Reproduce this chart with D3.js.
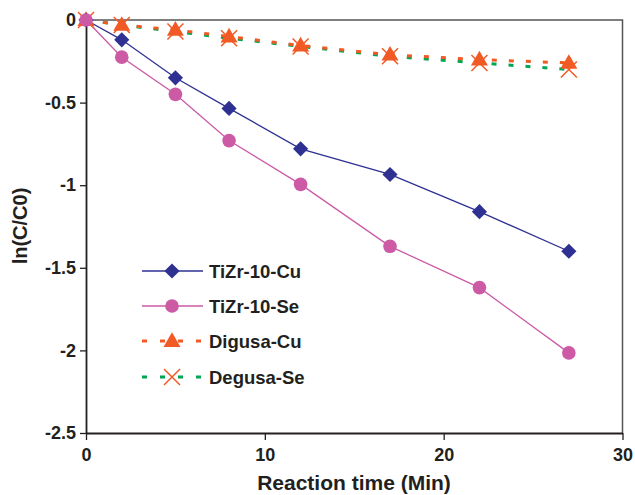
<!DOCTYPE html>
<html>
<head>
<meta charset="utf-8">
<script src="https://cdn.jsdelivr.net/npm/d3@7"></script>
<style>
  body { margin: 0; background: #fff; }
  text { font-family: "Liberation Sans", Arial, sans-serif; font-weight: bold; fill: #231f20; }
</style>
</head>
<body>
<div id="graphic"></div>
<script>
// data
const times = [0, 2, 5, 8, 12, 17, 22, 27];
const tizrCu = [0, -0.12, -0.35, -0.535, -0.78, -0.935, -1.16, -1.40];
const tizrSe = [0, -0.225, -0.45, -0.73, -0.995, -1.37, -1.62, -2.015];
const digusaCu = [0, -0.03, -0.06, -0.10, -0.155, -0.21, -0.24, -0.26];
const degusaSe = [0, -0.03, -0.07, -0.11, -0.16, -0.22, -0.26, -0.30];
const xTicks = [0, 10, 20, 30];
const yTicks = [0, -0.5, -1, -1.5, -2, -2.5];

const series = [
  { name: "TiZr-10-Cu", values: tizrCu, color: "#2e3192", marker: "diamond", dash: null, width: 1.3 },
  { name: "TiZr-10-Se", values: tizrSe, color: "#cc5aa5", marker: "circle", dash: null, width: 1.3 },
  { name: "Digusa-Cu", values: digusaCu, color: "#f15a24", marker: "triangle", dash: "5,12", width: 3 },
  { name: "Degusa-Se", values: degusaSe, color: "#00a651", marker: "cross", dash: "5,12", width: 3, markerColor: "#f15a24" }
];

const width = 635, height = 495;
const margin = { top: 20, right: 12.5, bottom: 62, left: 86 };
const plotWidth = width - margin.left - margin.right;
const plotHeight = height - margin.top - margin.bottom;

const svg = d3.select("#graphic")
  .append("svg")
  .attr("width", width)
  .attr("height", height);

const plot = svg.append("g")
  .attr("transform", "translate(" + margin.left + "," + margin.top + ")");

const x = d3.scaleLinear().domain([0, 30]).range([0, plotWidth]);
const y = d3.scaleLinear().domain([-2.5, 0]).range([plotHeight, 0]);

// frame on top and right
plot.append("path")
  .attr("d", "M0,0H" + plotWidth + "V" + plotHeight)
  .attr("fill", "none")
  .attr("stroke", "#555")
  .attr("stroke-width", 1.5);

// axes (plain hyphen minus like the original)
const fmt = d => String(d);
const xAxis = plot.append("g")
  .attr("transform", "translate(0," + plotHeight + ")")
  .call(d3.axisBottom(x).tickValues(xTicks).tickSize(7).tickPadding(8).tickSizeOuter(0).tickFormat(fmt));
const yAxis = plot.append("g")
  .call(d3.axisLeft(y).tickValues(yTicks).tickSize(6).tickPadding(4).tickSizeOuter(0).tickFormat(fmt));

[xAxis, yAxis].forEach(a => {
  a.select(".domain").attr("stroke", "#231f20").attr("stroke-width", 1.8);
  a.selectAll(".tick line").attr("stroke", "#231f20").attr("stroke-width", 1.3);
  a.selectAll(".tick text")
    .attr("font-family", "'Liberation Sans', Arial, sans-serif")
    .attr("font-weight", "bold")
    .attr("font-size", 18)
    .attr("fill", "#231f20");
});

// axis titles
svg.append("text")
  .attr("x", 354)
  .attr("y", 490)
  .attr("text-anchor", "middle")
  .attr("font-size", 21)
  .text("Reaction time (Min)");

svg.append("text")
  .attr("transform", "translate(27,226) rotate(-90)")
  .attr("text-anchor", "middle")
  .attr("font-size", 20)
  .text("ln(C/C0)");

function drawMarker(g, type, color, cx, cy) {
  if (type === "diamond") {
    g.append("path").attr("d", d3.symbol(d3.symbolSquare, 115)())
      .attr("transform", "translate(" + cx + "," + cy + ") rotate(45)")
      .attr("fill", color);
  } else if (type === "circle") {
    g.append("circle").attr("cx", cx).attr("cy", cy).attr("r", 6.8).attr("fill", color);
  } else if (type === "triangle") {
    g.append("path").attr("d", d3.symbol(d3.symbolTriangle, 125)())
      .attr("transform", "translate(" + cx + "," + (cy + 1) + ")")
      .attr("fill", color);
  } else if (type === "cross") {
    g.append("path").attr("d", "M-8,-8L8,8M-8,8L8,-8")
      .attr("transform", "translate(" + cx + "," + cy + ")")
      .attr("stroke", color).attr("stroke-width", 1.5).attr("fill", "none");
  }
}

// lines then markers (drawn in reverse so the Cu triangles end on top)
const order = [3, 2, 0, 1];
order.forEach(i => {
  const s = series[i];
  const pts = times.map((t, j) => ({ t: t, v: s.values[j] }));
  plot.append("path")
    .datum(pts)
    .attr("fill", "none")
    .attr("stroke", s.color)
    .attr("stroke-width", s.width)
    .attr("stroke-dasharray", s.dash)
    .attr("d", d3.line().x(d => x(d.t)).y(d => y(d.v)));
});
order.forEach(i => {
  const s = series[i];
  const g = plot.append("g");
  times.forEach((t, j) => drawMarker(g, s.marker, s.markerColor || s.color, x(t), y(s.values[j])));
});

// legend
const legend = svg.append("g");
const rowY = [271, 306, 341, 377];
series.forEach((s, i) => {
  const ly = rowY[i];
  legend.append("line")
    .attr("x1", 142).attr("x2", 203)
    .attr("y1", ly).attr("y2", ly)
    .attr("stroke", s.color)
    .attr("stroke-width", s.dash ? 3 : 1.3)
    .attr("stroke-dasharray", s.dash ? "5,13" : null);
  drawMarker(legend, s.marker, s.markerColor || s.color, 172, ly);
  legend.append("text")
    .attr("x", 209)
    .attr("y", ly + 6.5)
    .attr("font-size", 18.5)
    .text(s.name);
});
</script>
</body>
</html>
